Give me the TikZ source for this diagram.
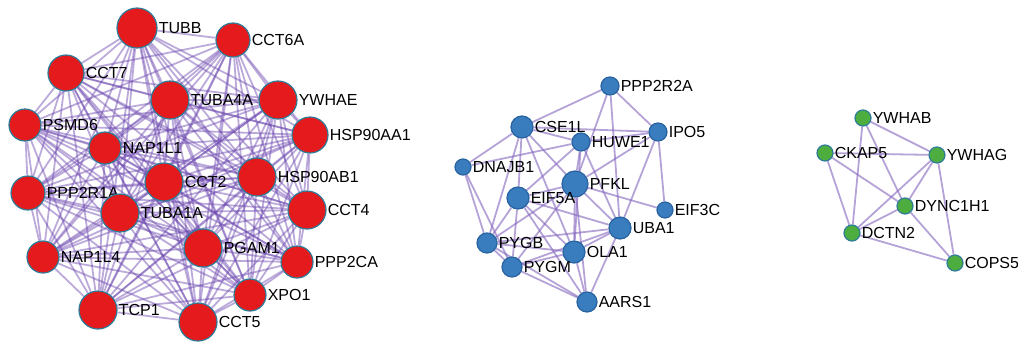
\documentclass[tikz,border=0pt]{standalone}
\usepackage{fontspec}
\setsansfont{Liberation Sans}
\usetikzlibrary{backgrounds}
\definecolor{genered}{HTML}{E41A1C}
\definecolor{geneblue}{HTML}{3A7DBF}
\definecolor{genegreen}{HTML}{4DAE3F}
\definecolor{rimteal}{HTML}{2D7C98}
\definecolor{rimblue}{HTML}{2862A0}
\definecolor{linkpurple}{HTML}{8466BE}
\definecolor{linkdeep}{HTML}{6A45AE}

\begin{document}
\begin{tikzpicture}[x=1pt, y=-1pt,
  gene/.style={circle, line width=1.2pt, inner sep=0pt, minimum size=#1, label distance=0pt},
  redgene/.style={gene=#1, fill=genered, draw=rimteal},
  bluegene/.style={gene=#1, fill=geneblue, draw=rimblue},
  greengene/.style={gene=#1, fill=genegreen, draw=rimteal},
  lbl/.style={font=\sffamily\fontsize{16}{16}\selectfont, inner sep=1pt},
  redlink/.style={line width=1.8pt, draw=linkdeep, opacity=.45},
  link/.style={line width=1.8pt, draw=linkpurple, opacity=.6}
]
  \useasboundingbox (0,0) rectangle (1018,341);

  % red cluster
  \node[redgene=40pt, label={[lbl]right:TUBB}]     (tubb)    at (137,28)  {};
  \node[redgene=34pt, label={[lbl]right:CCT6A}]    (cct6a)   at (233,40)  {};
  \node[redgene=36pt, label={[lbl]right:CCT7}]     (cct7)    at (66,73)   {};
  \node[redgene=38pt, label={[lbl]right:TUBA4A}]   (tuba4a)  at (170,100) {};
  \node[redgene=38pt, label={[lbl]right:YWHAE}]    (ywhae)   at (278,100) {};
  \node[redgene=32pt, label={[lbl]right:PSMD6}]    (psmd6)   at (25,125)  {};
  \node[redgene=36pt, label={[lbl]right:HSP90AA1}] (hspaa)   at (310,135) {};
  \node[redgene=32pt, label={[lbl]right:NAP1L1}]   (nap1l1)  at (105,148) {};
  \node[redgene=38pt, label={[lbl]right:CCT2}]     (cct2)    at (164,182) {};
  \node[redgene=38pt, label={[lbl]right:HSP90AB1}] (hspab)   at (257,177) {};
  \node[redgene=34pt, label={[lbl]right:PPP2R1A}]  (ppp2r1a) at (28,193)  {};
  \node[redgene=38pt, label={[lbl]right:TUBA1A}]   (tuba1a)  at (120,213) {};
  \node[redgene=38pt, label={[lbl]right:CCT4}]     (cct4)    at (307,210) {};
  \node[redgene=32pt, label={[lbl]right:NAP1L4}]   (nap1l4)  at (43,257)  {};
  \node[redgene=38pt, label={[lbl]right:PGAM1}]    (pgam1)   at (203,248) {};
  \node[redgene=32pt, label={[lbl]right:PPP2CA}]   (ppp2ca)  at (297,262) {};
  \node[redgene=32pt, label={[lbl]right:XPO1}]     (xpo1)    at (250,295) {};
  \node[redgene=38pt, label={[lbl]right:TCP1}]     (tcp1)    at (98,310)  {};
  \node[redgene=38pt, label={[lbl]right:CCT5}]     (cct5)    at (198,322) {};

  % blue cluster
  \node[bluegene=18pt, label={[lbl]right:PPP2R2A}] (ppp2r2a) at (610,86)  {};
  \node[bluegene=22pt, label={[lbl]right:CSE1L}]   (cse1l)   at (522,127) {};
  \node[bluegene=18pt, label={[lbl]right:HUWE1}]   (huwe1)   at (581,142) {};
  \node[bluegene=18pt, label={[lbl]right:IPO5}]    (ipo5)    at (658,132) {};
  \node[bluegene=16pt, label={[lbl]right:DNAJB1}]  (dnajb1)  at (463,167) {};
  \node[bluegene=26pt, label={[lbl]right:PFKL}]    (pfkl)    at (575,184) {};
  \node[bluegene=22pt, label={[lbl]right:EIF5A}]   (eif5a)   at (518,198) {};
  \node[bluegene=16pt, label={[lbl]right:EIF3C}]   (eif3c)   at (665,210) {};
  \node[bluegene=22pt, label={[lbl]right:UBA1}]    (uba1)    at (620,228) {};
  \node[bluegene=20pt, label={[lbl]right:PYGB}]    (pygb)    at (487,243) {};
  \node[bluegene=22pt, label={[lbl]right:OLA1}]    (ola1)    at (574,252) {};
  \node[bluegene=20pt, label={[lbl]right:PYGM}]    (pygm)    at (512,267) {};
  \node[bluegene=20pt, label={[lbl]right:AARS1}]   (aars1)   at (587,302) {};

  % green cluster
  \node[greengene=16pt, label={[lbl]right:YWHAB}]   (ywhab)   at (863,118) {};
  \node[greengene=16pt, label={[lbl]right:CKAP5}]   (ckap5)   at (825,153) {};
  \node[greengene=16pt, label={[lbl]right:YWHAG}]   (ywhag)   at (937,155) {};
  \node[greengene=16pt, label={[lbl]right:DYNC1H1}] (dync1h1) at (905,206) {};
  \node[greengene=16pt, label={[lbl]right:DCTN2}]   (dctn2)   at (852,233) {};
  \node[greengene=16pt, label={[lbl]right:COPS5}]   (cops5)   at (955,263) {};

  \begin{scope}[on background layer]
    % red: every pair linked
    \foreach \a [count=\i] in {tubb,cct6a,cct7,tuba4a,ywhae,psmd6,hspaa,nap1l1,cct2,hspab,ppp2r1a,tuba1a,cct4,nap1l4,pgam1,ppp2ca,xpo1,tcp1,cct5}
      \foreach \b [count=\j] in {tubb,cct6a,cct7,tuba4a,ywhae,psmd6,hspaa,nap1l1,cct2,hspab,ppp2r1a,tuba1a,cct4,nap1l4,pgam1,ppp2ca,xpo1,tcp1,cct5}
        {\ifnum\j>\i \draw[redlink] (\a) -- (\b);\fi}

    % blue
    \foreach \a/\b in {ppp2r2a/cse1l, ppp2r2a/ipo5, ppp2r2a/pfkl, ppp2r2a/uba1,
                       cse1l/huwe1, cse1l/ipo5, cse1l/dnajb1, cse1l/eif5a, cse1l/pfkl, cse1l/pygb, cse1l/ola1,
                       huwe1/ipo5, huwe1/dnajb1, huwe1/pfkl, huwe1/ola1, huwe1/uba1, huwe1/eif5a,
                       ipo5/pfkl, ipo5/eif3c, ipo5/uba1,
                       dnajb1/pygb, dnajb1/pygm,
                       pfkl/eif5a, pfkl/eif3c, pfkl/uba1, pfkl/ola1, pfkl/aars1, pfkl/pygb, pfkl/pygm,
                       eif5a/pygb, eif5a/pygm, eif5a/uba1, eif5a/ola1, eif5a/aars1,
                       uba1/pygb, uba1/pygm, uba1/ola1, uba1/aars1,
                       pygb/pygm, pygb/ola1, pygb/aars1,
                       pygm/ola1, pygm/aars1, ola1/aars1}
      \draw[link] (\a) -- (\b);

    % green
    \foreach \a/\b in {ywhab/ywhag, ywhab/dctn2, ywhab/dync1h1,
                       ckap5/ywhag, ckap5/dctn2, ckap5/dync1h1,
                       ywhag/dync1h1, ywhag/dctn2, ywhag/cops5,
                       dctn2/dync1h1, dctn2/cops5, dync1h1/cops5}
      \draw[link] (\a) -- (\b);
  \end{scope}
\end{tikzpicture}
\end{document}
